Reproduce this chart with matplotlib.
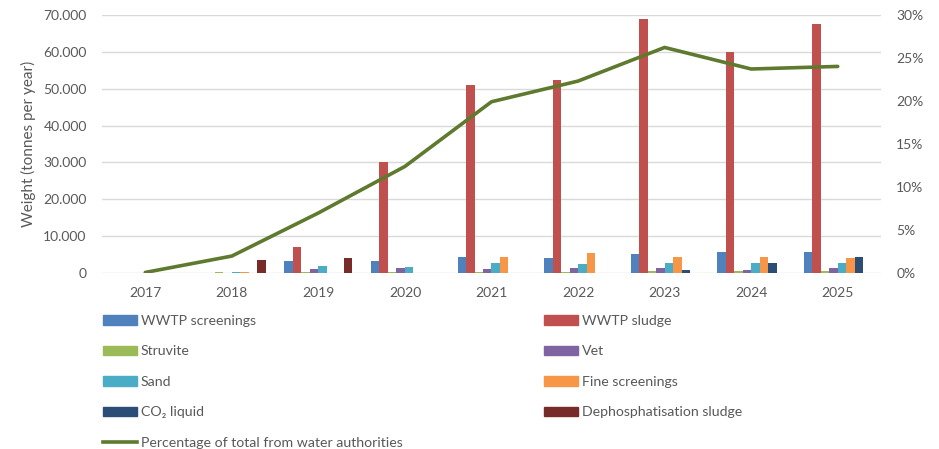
import matplotlib
matplotlib.use("Agg")
import matplotlib.pyplot as plt
import numpy as np
from matplotlib.patches import Patch
from matplotlib.lines import Line2D
from matplotlib.ticker import FuncFormatter

plt.rcParams['font.family'] = ['Lato', 'DejaVu Sans']

years = ["2017", "2018", "2019", "2020", "2021", "2022", "2023", "2024", "2025"]

# tonnes per year
wwtp_screenings = [0, 0, 3300, 3250, 4500, 4100, 5100, 5800, 5800]
wwtp_sludge = [0, 0, 7000, 30200, 50900, 52300, 68800, 60000, 67600]
struvite = [0, 300, 300, 300, 300, 450, 500, 600, 600]
vet = [0, 0, 1100, 1500, 1250, 1450, 1350, 1000, 1350]
sand = [0, 350, 1900, 1800, 2900, 2500, 2700, 2800, 2900]
fine_screenings = [0, 350, 0, 0, 4500, 5500, 4400, 4400, 4100]
co2_liquid = [0, 0, 0, 0, 0, 0, 900, 2800, 4400]
dephos_sludge = [0, 3700, 4100, 0, 0, 0, 0, 0, 0]

# share of total from water authorities (%)
pct_water_auth = [0.1, 2.0, 7.0, 12.4, 19.9, 22.3, 26.2, 23.7, 24.0]

series = [
    ("WWTP screenings", wwtp_screenings, "#4F81BD"),
    ("WWTP sludge", wwtp_sludge, "#C0504D"),
    ("Struvite", struvite, "#9BBB59"),
    ("Vet", vet, "#8064A2"),
    ("Sand", sand, "#4BACC6"),
    ("Fine screenings", fine_screenings, "#F79646"),
    ("CO\u2082 liquid", co2_liquid, "#2C4D75"),
    ("Dephosphatisation sludge", dephos_sludge, "#772C2A"),
]
line_color = "#5F7A2E"
text_color = "#595959"
grid_color = "#D9D9D9"

W, H = 939, 449
fig = plt.figure(figsize=(W / 100, H / 100), dpi=100)
ax = fig.add_axes([102 / W, 1 - 273.3 / H, (881 - 102) / W, (273.3 - 14.7) / H])

x = np.arange(len(years))
n = len(series)
bw = 0.785 / n
for i, (name, vals, col) in enumerate(series):
    ax.bar(x - 0.785 / 2 + bw * (i + 0.5), vals, width=bw, color=col, label=name, zorder=2)

ax.set_xlim(-0.5, len(years) - 0.5)
ax.set_ylim(0, 70000)
ax.set_yticks(np.arange(0, 70001, 10000))
ax.yaxis.set_major_formatter(FuncFormatter(lambda v, p: "0" if v == 0 else f"{int(v):,}".replace(",", ".")))
ax.set_xticks(x)
ax.set_xticklabels(years)
ax.grid(axis="y", color=grid_color, linewidth=1, zorder=0)
ax.set_axisbelow(True)
for s in ax.spines.values():
    s.set_visible(False)
ax.tick_params(axis="both", length=0, colors=text_color, labelsize=10)
ax.tick_params(axis="y", pad=11)
ax.tick_params(axis="x", pad=10)
ax.set_ylabel("Weight (tonnes per year)", color=text_color, fontsize=11, labelpad=5)

ax2 = ax.twinx()
ax2.plot(x, np.array(pct_water_auth) / 100, color=line_color, linewidth=2.6,
         solid_capstyle="round", zorder=3)
ax2.set_ylim(0, 0.30)
ax2.set_yticks(np.arange(0, 0.301, 0.05))
ax2.yaxis.set_major_formatter(FuncFormatter(lambda v, p: f"{round(v * 100)}%"))
for s in ax2.spines.values():
    s.set_visible(False)
ax2.tick_params(axis="y", length=0, colors=text_color, labelsize=10, pad=11)

# legend in two columns
left_items = [series[0], series[2], series[4], series[6]]
right_items = [series[1], series[3], series[5], series[7]]
leg_kw = dict(frameon=False, fontsize=10.2, handlelength=2.4, handleheight=0.65,
              handletextpad=0.25, labelspacing=1.3, borderaxespad=0, borderpad=0,
              labelcolor=text_color, loc="upper left")
h_left = [Patch(color=c) for _, _, c in left_items] + [Line2D([], [], color=line_color, linewidth=2.6)]
l_left = [nme for nme, _, _ in left_items] + ["Percentage of total from water authorities"]
fig.legend(h_left, l_left, bbox_to_anchor=(103 / W, 1 - 315 / H), **leg_kw)
h_right = [Patch(color=c) for _, _, c in right_items]
l_right = [nme for nme, _, _ in right_items]
fig.legend(h_right, l_right, bbox_to_anchor=(544 / W, 1 - 315 / H), **leg_kw)

fig.savefig("out.png", dpi=100)
